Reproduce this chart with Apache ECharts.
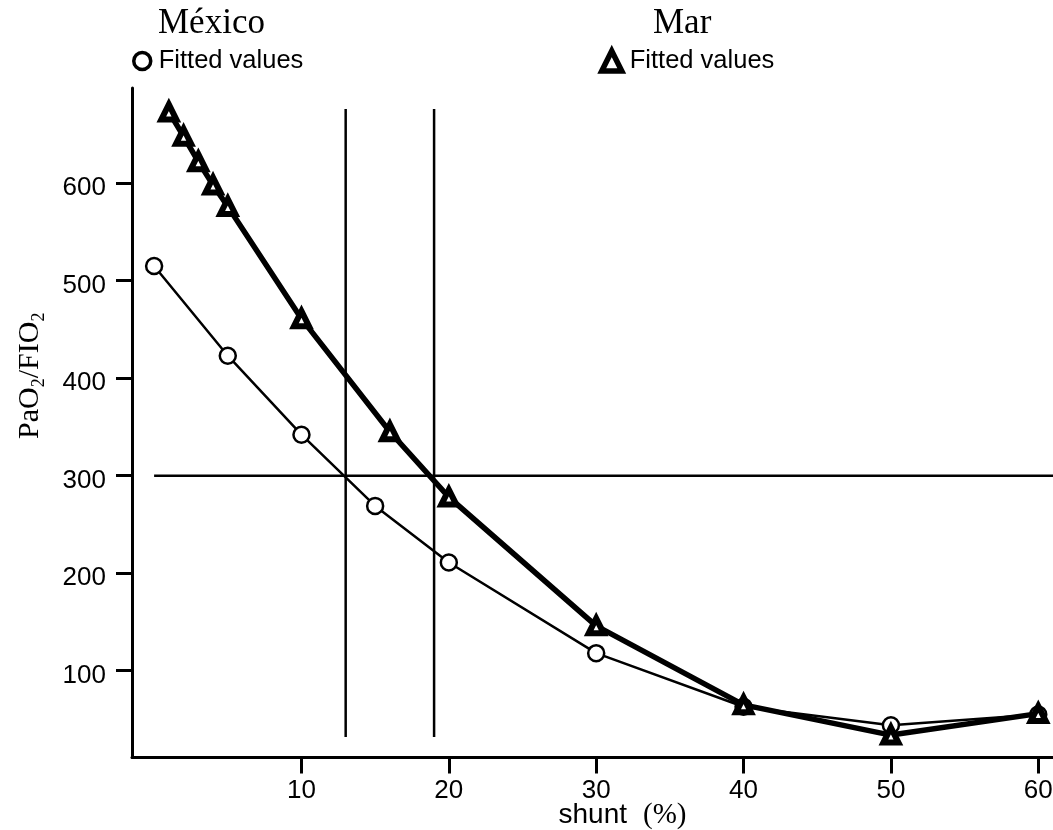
<!DOCTYPE html>
<html>
<head>
<meta charset="utf-8">
<title>PaO2/FIO2 vs shunt</title>
<script src="https://cdn.jsdelivr.net/npm/echarts@6/dist/echarts.min.js"></script>
<style>
    html, body { margin: 0; padding: 0; background: #fff; }
    #chart { width: 1053px; height: 830px; }
</style>
</head>
<body>
<div id="chart"></div>
<script>
// México: fitted values
const mexicoShunt = [0, 5, 10, 15, 20, 30, 40, 50, 60];
const mexicoRatio = [515, 423, 342, 269, 211, 118, 63, 44, 55];

// Mar: fitted values
const marShunt = [1, 2, 3, 4, 5, 10, 16, 20, 30, 40, 50, 60];
const marRatio = [673, 648, 622, 598, 576, 461, 345, 278, 146, 65, 34, 56];

// reference lines
const cutoffRatio = 300;
const cutoffRatioSpan = [0, 61];
const cutoffShunt = [13, 19];
const cutoffShuntSpan = [32, 676];

// ticks
const xTicks = [10, 20, 30, 40, 50, 60];
const yTicks = [100, 200, 300, 400, 500, 600];

const SANS = 'Liberation Sans, Arial, sans-serif';
const SERIF = 'Liberation Serif, Times New Roman, serif';

/**
 * zip x / y arrays into [x, y] pairs
 */
function pairs(xs, ys) {
    return xs.map((x, i) => [x, ys[i]]);
}

/**
 * one thin black straight line series
 */
function refLine(data) {
    return {
        type: 'line',
        data: data,
        symbol: 'none',
        silent: true,
        z: 1,
        lineStyle: { color: '#000', width: 2.5 }
    };
}

function legendFor(name, icon, left, size, border) {
    return {
        data: [{
            name: name,
            icon: icon,
            itemStyle: { color: '#fff', borderColor: '#000', borderWidth: border }
        }],
        left: left,
        top: 43,
        itemWidth: size,
        itemHeight: size,
        selectedMode: false,
        formatter: () => 'Fitted values',
        textStyle: { fontFamily: SANS, fontSize: 25.5, color: '#000', padding: [0, 0, 0, 3] }
    };
}

const chart = echarts.init(document.getElementById('chart'), null, { renderer: 'canvas' });

const option = {
    backgroundColor: '#fff',
    animation: false,
    title: [
        { text: 'México', left: 158, top: 6, padding: 0,
          textStyle: { fontFamily: SERIF, fontSize: 35, fontWeight: 'normal', color: '#000' } },
        { text: 'Mar', left: 653, top: 6, padding: 0,
          textStyle: { fontFamily: SERIF, fontSize: 35, fontWeight: 'normal', color: '#000' } }
    ],
    legend: [
        legendFor('México', 'circle', 127, 17, 3.5),
        legendFor('Mar', 'triangle', 594, 20, 5.5)
    ],
    grid: { left: 132, right: 0, top: 88, bottom: 72.5, outerBoundsMode: 'none' },
    xAxis: {
        type: 'value',
        min: -1.5,
        max: 61,
        splitLine: { show: false },
        axisLine: { onZero: false, lineStyle: { color: '#000', width: 3 } },
        axisTick: { customValues: xTicks, length: 16, lineStyle: { color: '#000', width: 3 } },
        axisLabel: { customValues: xTicks, margin: 20, fontFamily: SANS, fontSize: 26, color: '#000' },
        name: '{a|shunt}{b|(%)}',
        nameLocation: 'middle',
        nameGap: 43,
        nameMoveOverlap: false,
        nameTextStyle: {
            padding: [0, 0, 0, 60],
            rich: {
                a: { fontFamily: SANS, fontSize: 28, color: '#000' },
                b: { fontFamily: SERIF, fontSize: 29, color: '#000', padding: [0, 0, 0, 16] }
            }
        }
    },
    yAxis: {
        type: 'value',
        min: 11,
        max: 697.5,
        splitLine: { show: false },
        axisLine: { onZero: false, lineStyle: { color: '#000', width: 3 } },
        axisTick: { customValues: yTicks, length: 16, lineStyle: { color: '#000', width: 3 } },
        axisLabel: {
            customValues: yTicks, margin: 26,
            formatter: v => '{v|' + v + '}',
            rich: { v: { fontFamily: SANS, fontSize: 26, color: '#000', padding: [10, 0, 0, 0] } }
        },
        name: '{n|PaO}{s|2}{n|/FIO}{s|2}',
        nameLocation: 'middle',
        nameGap: 84,
        nameMoveOverlap: false,
        nameTextStyle: {
            padding: [0, 0, 0, 94],
            rich: {
                n: { fontFamily: SERIF, fontSize: 30, lineHeight: 36, color: '#000' },
                s: { fontFamily: SERIF, fontSize: 18, lineHeight: 18, verticalAlign: 'bottom', color: '#000' }
            }
        }
    },
    series: [
        refLine(cutoffRatioSpan.map(x => [x, cutoffRatio])),
        refLine(cutoffShuntSpan.map(y => [cutoffShunt[0], y])),
        refLine(cutoffShuntSpan.map(y => [cutoffShunt[1], y])),
        {
            name: 'México',
            type: 'line',
            data: pairs(mexicoShunt, mexicoRatio),
            symbol: 'circle',
            symbolSize: 16,
            z: 3,
            lineStyle: { color: '#000', width: 2.5 },
            itemStyle: { color: '#fff', borderColor: '#000', borderWidth: 2.5 }
        },
        {
            name: 'Mar',
            type: 'line',
            data: pairs(marShunt, marRatio),
            symbol: 'triangle',
            symbolSize: 15,
            z: 4,
            lineStyle: { color: '#000', width: 5.5 },
            itemStyle: { color: '#fff', borderColor: '#000', borderWidth: 6 }
        }
    ]
};

chart.setOption(option);
window.addEventListener('resize', () => chart.resize());
</script>
</body>
</html>
